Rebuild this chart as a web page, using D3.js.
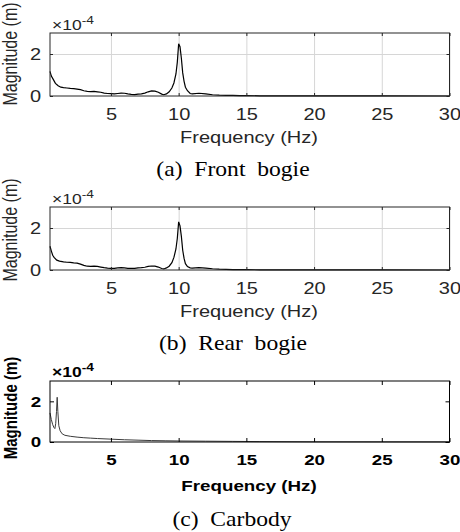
<!DOCTYPE html>
<html>
<head>
<meta charset="utf-8">
<script src="https://cdn.jsdelivr.net/npm/d3@7"></script>
<style>
  body { margin: 0; background: #fff; }
  svg { display: block; }
</style>
</head>
<body>
<svg id="chart"></svg>
<script>
// spectrum data, magnitude in units of 1e-4 m
const freqA = [0.5,0.6,0.75,0.9,1.1,1.3,1.5,1.75,2.0,2.25,2.5,2.75,3.0,3.25,3.5,3.75,4.0,4.25,4.5,4.75,5.0,5.25,5.5,5.75,6.0,6.25,6.5,6.75,7.0,7.25,7.5,7.75,8.0,8.25,8.5,8.75,8.9,9.1,9.3,9.5,9.65,9.8,9.9,10.0,10.1,10.2,10.3,10.4,10.5,10.65,10.85,11.0,11.5,12.0,12.5,13.0,13.5,14.0,14.5,15.0,16,18,20,22,25,30];
const magA  = [1.17,0.95,0.78,0.6,0.49,0.42,0.40,0.38,0.36,0.35,0.33,0.30,0.25,0.22,0.21,0.22,0.20,0.18,0.14,0.12,0.11,0.10,0.12,0.14,0.13,0.10,0.08,0.07,0.09,0.10,0.14,0.20,0.24,0.23,0.18,0.09,0.06,0.10,0.20,0.38,0.62,1.05,1.6,2.49,2.35,1.8,1.1,0.7,0.42,0.25,0.12,0.10,0.13,0.10,0.06,0.04,0.03,0.03,0.02,0.02,0.01,0.005,0.004,0.003,0.002,0.001];

const freqB = [0.5,0.6,0.7,0.8,1.0,1.2,1.5,1.75,2.0,2.25,2.5,2.75,3.0,3.25,3.5,3.75,4.0,4.25,4.5,4.75,5.0,5.25,5.5,5.75,6.0,6.25,6.5,6.75,7.0,7.25,7.5,7.75,8.0,8.25,8.5,8.75,8.9,9.1,9.3,9.5,9.65,9.8,9.9,10.0,10.1,10.2,10.3,10.4,10.5,10.65,10.85,11.0,11.5,12,12.5,13,13.5,14,15,16,18,20,25,30];
const magB  = [1.13,0.9,0.7,0.6,0.47,0.42,0.39,0.37,0.36,0.34,0.33,0.28,0.22,0.18,0.17,0.18,0.17,0.14,0.11,0.09,0.08,0.08,0.10,0.11,0.10,0.08,0.08,0.08,0.10,0.11,0.13,0.17,0.19,0.18,0.14,0.07,0.05,0.10,0.18,0.35,0.6,1.0,1.5,2.29,2.1,1.6,0.94,0.55,0.3,0.16,0.1,0.09,0.11,0.09,0.06,0.04,0.03,0.02,0.015,0.01,0.005,0.004,0.002,0.001];

const freqC = [0.5,0.6,0.7,0.8,0.86,0.92,0.98,1.03,1.08,1.15,1.25,1.4,1.6,2.0,2.5,3.0,3.5,4.0,5.0,6.0,7.0,8.0,9.0,10,12,14,16,20,25,30];
const magC  = [1.43,1.1,0.85,0.7,0.66,0.9,1.5,2.2,1.5,0.8,0.55,0.4,0.33,0.28,0.24,0.21,0.19,0.17,0.14,0.11,0.09,0.07,0.06,0.05,0.04,0.03,0.02,0.01,0.007,0.005];

const xTicks = [5, 10, 15, 20, 25, 30];
const yTicks = [0, 2];
const captions = ["(a)  Front  bogie", "(b)  Rear  bogie", "(c)  Carbody"];

const W = 460, H = 532;
const SX = 1.25;      // the figure is stretched sideways
const SXS = 1.18;

const svg = d3.select("#chart").attr("width", W).attr("height", H);

function label(g, x, y, s, o) {
  const t = g.append("text")
    .attr("transform", `translate(${x},${y}) scale(${o.sx || SX},1) rotate(${o.rot || 0})`)
    .attr("text-anchor", o.anchor || "middle")
    .attr("font-family", o.family || "Arial, 'Liberation Sans', sans-serif")
    .attr("font-size", o.size || 16)
    .attr("font-weight", o.bold ? "bold" : "normal")
    .attr("fill", o.fill || "#262626")
    .style("white-space", "pre")
    .text(s);
  return t;
}

function drawPanel(p) {
  const left = 50, right = 449.5;
  const x = d3.scaleLinear().domain([0.5, 30]).range([left, right]);
  const y = d3.scaleLinear().domain([0, 3]).range([p.bottom, p.top]);
  const ink = p.bold ? "#000" : "#262626";
  const g = svg.append("g");

  if (p.grid) {
    g.append("g")
      .attr("transform", `translate(0,${p.bottom})`)
      .call(d3.axisBottom(x).tickValues(xTicks).tickSize(-(p.bottom - p.top)).tickFormat(""))
      .call(a => a.select(".domain").remove())
      .selectAll("line").attr("stroke", "#d6d6d6").attr("stroke-width", 1);
    g.append("g")
      .attr("transform", `translate(${left},0)`)
      .call(d3.axisLeft(y).tickValues([2]).tickSize(-(right - left)).tickFormat(""))
      .call(a => a.select(".domain").remove())
      .selectAll("line").attr("stroke", "#d6d6d6").attr("stroke-width", 1);
  }

  const line = d3.line().x((d, i) => x(p.fx[i])).y(d => y(d));
  g.append("path")
    .datum(p.mag)
    .attr("d", line)
    .attr("fill", "none")
    .attr("stroke", p.bold ? "#3a3a3a" : "#000")
    .attr("stroke-width", p.bold ? 1 : 1.2);

  const tk = p.bold ? 4 : 3;
  const fs = p.bold ? 15 : 16;

  const bx = g.append("g")
    .attr("transform", `translate(0,${p.bottom})`)
    .call(d3.axisBottom(x).tickValues(xTicks).tickSize(-tk).tickPadding(12.6).tickFormat(d3.format("d")));
  const tp = g.append("g")
    .attr("transform", `translate(0,${p.top})`)
    .call(d3.axisTop(x).tickValues(xTicks).tickSize(-tk).tickFormat(""));
  const ly = g.append("g")
    .attr("transform", `translate(${left},0)`)
    .call(d3.axisLeft(y).tickValues(yTicks).tickSize(-tk).tickPadding(7).tickFormat(d3.format("d")));
  const ry = g.append("g")
    .attr("transform", `translate(${right},0)`)
    .call(d3.axisRight(y).tickValues(yTicks).tickSize(-tk).tickFormat(""));

  [bx, tp, ly, ry].forEach(a => {
    a.select(".domain").remove();
    a.selectAll("line").attr("stroke", ink);
    a.selectAll("text")
      .attr("transform", `scale(${SX},1)`)
      .attr("font-family", "Arial, 'Liberation Sans', sans-serif")
      .attr("font-size", fs)
      .attr("font-weight", p.bold ? "bold" : "normal")
      .attr("fill", ink);
  });

  g.append("rect")
    .attr("x", left).attr("y", p.top)
    .attr("width", right - left).attr("height", p.bottom - p.top)
    .attr("fill", "none").attr("stroke", ink).attr("stroke-width", 1);

  // exponent
  const ex = label(g, 52, p.top - (p.bold ? 4 : 3), "×10", { anchor: "start", size: 14, bold: p.bold, fill: ink });
  ex.append("tspan").attr("dy", -6).attr("font-size", 11).text("-4");

  label(g, 16.5, p.magY, "Magnitude (m)", { rot: -90, size: fs, bold: p.bold, fill: ink });
  label(g, 249, p.freqY, "Frequency (Hz)", { size: fs, bold: p.bold, fill: ink });
  label(g, p.capX, p.capY, p.caption, {
    family: "'Times New Roman', 'Liberation Serif', serif", size: 20, sx: SXS, fill: "#000"
  });
}

drawPanel({ fx: freqA, mag: magA, top: 33, bottom: 96, grid: true, bold: false,
  magY: 54, freqY: 143, capX: 233, capY: 176, caption: captions[0] });
drawPanel({ fx: freqB, mag: magB, top: 207, bottom: 270, grid: true, bold: false,
  magY: 230, freqY: 317, capX: 233, capY: 350, caption: captions[1] });
drawPanel({ fx: freqC, mag: magC, top: 381, bottom: 442, grid: false, bold: true,
  magY: 408, freqY: 491, capX: 232, capY: 526, caption: captions[2] });
</script>
</body>
</html>
